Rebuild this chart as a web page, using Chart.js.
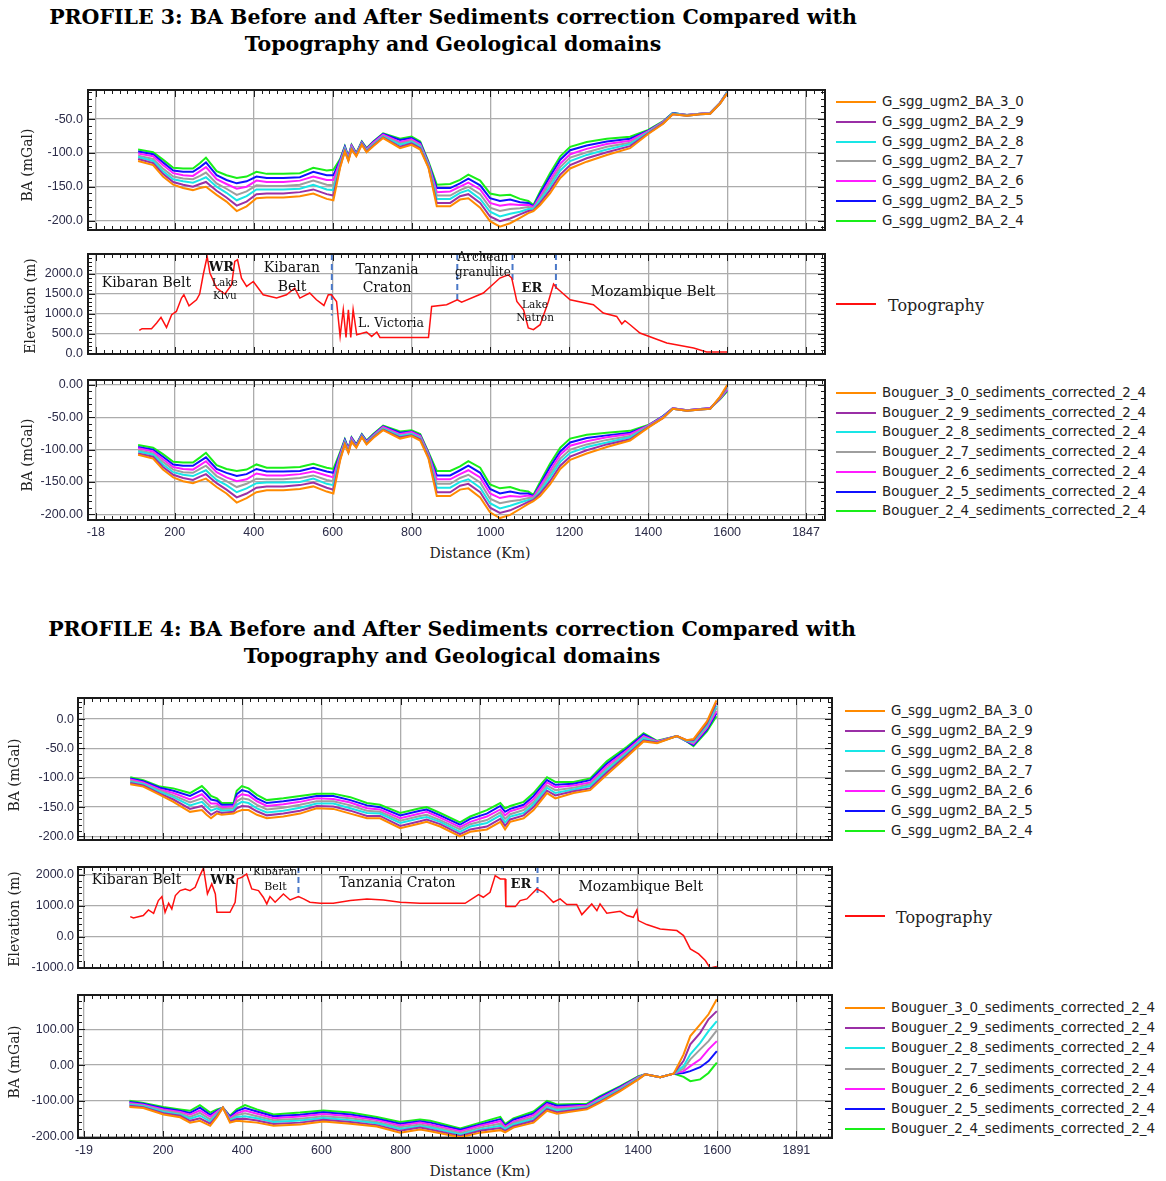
<!DOCTYPE html>
<html>
<head>
<meta charset="utf-8">
<script src="https://cdn.jsdelivr.net/npm/chart.js@4.4.1/dist/chart.umd.min.js"></script>
<style>
  body { margin: 0; background: #fff; }
  #page { position: relative; width: 1166px; height: 1181px; overflow: hidden; background: #fff; }
  canvas { position: absolute; left: 0; }
  .title { position: absolute; left: 0; text-align: center; font: bold 20.5px "DejaVu Serif"; color: #000; line-height: 27px; white-space: nowrap; }
  .leg { position: absolute; font: 13.4px "DejaVu Sans"; color: #222; white-space: nowrap; line-height: 16px; }
  .leg b { position: absolute; top: 7px; width: 40px; height: 2px; }
  .leg span { position: absolute; top: 0; }
  .vt { position: absolute; transform: translate(-50%, -50%) rotate(-90deg); font: 14px "DejaVu Serif"; color: #222; white-space: nowrap; }
  .ht { position: absolute; transform: translate(-50%, -50%); font: 14px "DejaVu Serif"; color: #222; white-space: nowrap; }
</style>
</head>
<body>
<div id="page">
  <div class="title" style="top:4px;width:906px">PROFILE 3: BA Before and After Sediments correction Compared with<br>Topography and Geological domains</div>
  <div class="title" style="top:616px;width:904px">PROFILE 4: BA Before and After Sediments correction Compared with<br>Topography and Geological domains</div>
  <canvas id="p3ba" width="832" height="160" style="top:80px"></canvas>
  <canvas id="p3topo" width="832" height="116" style="top:244px"></canvas>
  <canvas id="p3bou" width="832" height="170" style="top:370px"></canvas>
  <canvas id="p4ba" width="840" height="162" style="top:688px"></canvas>
  <canvas id="p4topo" width="840" height="117" style="top:857px"></canvas>
  <canvas id="p4bou" width="840" height="173" style="top:985px"></canvas>
</div>
<script>
// ---------- data ----------
const seriesNamesBA = ['G_sgg_ugm2_BA_3_0', 'G_sgg_ugm2_BA_2_9', 'G_sgg_ugm2_BA_2_8', 'G_sgg_ugm2_BA_2_7',
  'G_sgg_ugm2_BA_2_6', 'G_sgg_ugm2_BA_2_5', 'G_sgg_ugm2_BA_2_4'];
const seriesNamesBou = ['Bouguer_3_0_sediments_corrected_2_4', 'Bouguer_2_9_sediments_corrected_2_4',
  'Bouguer_2_8_sediments_corrected_2_4', 'Bouguer_2_7_sediments_corrected_2_4', 'Bouguer_2_6_sediments_corrected_2_4',
  'Bouguer_2_5_sediments_corrected_2_4', 'Bouguer_2_4_sediments_corrected_2_4'];

const xGridKm = [0, 200, 400, 600, 800, 1000, 1200, 1400, 1600, 1800];
const p3XLabels = ['-18', '200', '400', '600', '800', '1000', '1200', '1400', '1600', '1847'];
const p4XLabels = ['-19', '200', '400', '600', '800', '1000', '1200', '1400', '1600', '1891'];

const p3BaTicks = [-200, -150, -100, -50];
const p3TopoTicks = [0, 500, 1000, 1500, 2000];
const p3BouTicks = [-200, -150, -100, -50, 0];
const p4BaTicks = [-200, -150, -100, -50, 0];
const p4TopoTicks = [-1000, 0, 1000, 2000];
const p4BouTicks = [-200, -100, 0, 100];

// Profile 3, BA before sediments correction
const p3Km = [107,145,170,196,221,246,264,279,306,331,357,382,407,433,475,517,551,585,602,619,631,640,648,660,674,686,703,728,771,800,822,843,864,898,923,944,974,999,1024,1050,1075,1096,1109,1126,1151,1177,1202,1244,1295,1354,1400,1438,1462,1498,1532,1557,1582,1600];
const p3Ba30 = [-112,-118,-135,-147,-152,-155,-152,-150,-162,-172,-186,-179,-167,-166,-166,-164,-160,-168,-170,-122,-98,-112,-95,-105,-88,-99,-90,-78,-93,-88,-95,-122,-179,-179,-169,-167,-181,-201,-209,-204,-196,-189,-186,-177,-160,-137,-123,-113,-103,-93,-72,-57,-43,-45,-43,-42,-27,-12];
const p3Ba29 = [-109,-115,-131,-143,-147,-150,-146,-143,-156,-166,-178,-172,-161,-160,-160,-158,-154,-161,-163,-120,-97,-111,-94,-104,-87,-98,-89,-77,-91,-86,-93,-121,-174,-174,-164,-161,-174,-194,-201,-197,-191,-186,-185,-174,-155,-132,-118,-108,-99,-90,-71,-56,-43,-45,-43,-42,-27,-12];
const p3Ba28 = [-106,-112,-127,-139,-142,-144,-140,-136,-150,-159,-170,-164,-154,-154,-154,-153,-147,-154,-155,-118,-95,-110,-93,-103,-86,-97,-88,-76,-88,-84,-91,-119,-168,-168,-159,-155,-168,-187,-194,-190,-187,-183,-183,-170,-150,-126,-112,-103,-95,-87,-70,-56,-42,-45,-43,-42,-27,-11];
const p3Ba27 = [-104,-109,-123,-135,-138,-139,-134,-129,-145,-153,-162,-157,-148,-149,-149,-147,-141,-147,-148,-116,-94,-109,-92,-103,-86,-96,-87,-75,-86,-82,-89,-118,-163,-163,-155,-150,-161,-181,-186,-183,-182,-180,-182,-167,-145,-121,-107,-99,-91,-85,-69,-55,-42,-44,-42,-41,-26,-11];
const p3Ba26 = [-101,-105,-118,-130,-133,-134,-127,-121,-139,-146,-153,-150,-141,-143,-143,-141,-135,-140,-140,-113,-93,-107,-90,-102,-85,-95,-85,-73,-84,-80,-87,-116,-158,-157,-150,-144,-154,-174,-178,-176,-177,-177,-180,-164,-140,-116,-102,-94,-87,-82,-68,-54,-42,-44,-42,-41,-26,-11];
const p3Ba25 = [-98,-102,-114,-126,-128,-128,-121,-114,-133,-140,-145,-142,-135,-137,-137,-136,-128,-133,-133,-111,-91,-106,-89,-101,-84,-94,-84,-72,-81,-78,-85,-115,-152,-152,-145,-138,-148,-167,-171,-169,-173,-174,-179,-160,-135,-110,-96,-89,-83,-79,-67,-54,-41,-44,-42,-41,-26,-10];
const p3Ba24 = [-95,-99,-110,-122,-123,-123,-115,-107,-127,-133,-137,-135,-128,-131,-131,-130,-122,-126,-125,-109,-90,-105,-88,-100,-83,-93,-83,-71,-79,-76,-83,-113,-147,-146,-140,-132,-141,-160,-163,-162,-168,-171,-177,-157,-130,-105,-91,-84,-79,-76,-66,-53,-41,-44,-42,-41,-26,-10];

// Profile 3, BA after sediments correction (same km samples)
const p3Bou30 = [-108,-114,-131,-143,-149,-152,-148,-145,-158,-168,-182,-175,-166,-163,-163,-161,-157,-165,-168,-117,-92,-105,-88,-97,-81,-92,-82,-70,-83,-79,-86,-114,-172,-172,-162,-160,-174,-197,-206,-201,-192,-184,-180,-172,-154,-130,-116,-106,-96,-86,-66,-51,-37,-40,-38,-37,-18,0];
const p3Bou29 = [-106,-111,-127,-139,-144,-147,-142,-138,-152,-162,-174,-168,-159,-157,-157,-155,-151,-159,-162,-115,-91,-104,-87,-96,-80,-91,-81,-69,-81,-78,-84,-112,-166,-166,-156,-153,-166,-190,-198,-194,-187,-181,-178,-168,-149,-125,-111,-101,-92,-84,-65,-51,-37,-40,-38,-37,-19,-2];
const p3Bou28 = [-103,-108,-123,-135,-139,-141,-136,-132,-147,-155,-166,-160,-152,-151,-151,-150,-145,-153,-155,-113,-89,-103,-86,-95,-79,-90,-80,-68,-79,-76,-83,-111,-159,-159,-150,-146,-159,-183,-191,-187,-182,-178,-177,-165,-143,-119,-105,-96,-89,-81,-65,-50,-37,-40,-38,-37,-19,-3];
const p3Bou27 = [-101,-106,-119,-131,-135,-136,-130,-125,-141,-149,-158,-153,-145,-146,-146,-144,-140,-147,-149,-111,-88,-102,-85,-95,-79,-89,-79,-67,-78,-75,-81,-109,-153,-153,-144,-139,-151,-176,-183,-180,-178,-175,-175,-161,-138,-114,-100,-92,-85,-79,-64,-50,-37,-40,-38,-37,-20,-5];
const p3Bou26 = [-98,-103,-115,-127,-130,-131,-124,-118,-135,-143,-149,-146,-137,-140,-140,-138,-134,-140,-143,-108,-87,-100,-83,-94,-78,-88,-78,-65,-76,-73,-79,-107,-146,-146,-138,-132,-143,-168,-175,-172,-173,-171,-173,-157,-133,-108,-94,-87,-81,-76,-63,-49,-36,-39,-37,-36,-21,-7];
const p3Bou25 = [-96,-100,-111,-123,-125,-125,-118,-112,-130,-136,-141,-138,-130,-134,-134,-133,-128,-134,-136,-106,-85,-99,-82,-93,-77,-87,-77,-64,-74,-72,-78,-106,-140,-140,-132,-125,-136,-161,-168,-165,-168,-168,-172,-154,-127,-103,-89,-82,-78,-74,-63,-48,-36,-39,-37,-36,-21,-8];
const p3Bou24 = [-93,-97,-107,-119,-120,-120,-112,-105,-124,-130,-133,-131,-123,-128,-128,-127,-122,-128,-130,-104,-84,-98,-81,-92,-76,-86,-76,-63,-72,-70,-76,-104,-133,-133,-126,-118,-128,-154,-160,-158,-163,-165,-170,-150,-122,-97,-83,-77,-74,-71,-62,-48,-36,-39,-37,-36,-22,-10];

// Profile 3 topography
const p3TopoKm = [110,117,141,154,165,179,192,204,217,223,236,255,263,272,282,289,306,327,344,352,359,369,382,399,424,458,483,504,517,542,559,578,589,597,610,619,627,634,640,646,652,661,686,699,712,720,843,851,889,916,927,982,1024,1045,1054,1067,1084,1096,1109,1126,1147,1160,1168,1202,1261,1286,1320,1333,1341,1354,1379,1447,1515,1548,1600];
const p3Topo = [587,630,630,771,911,662,978,1060,1393,1475,1202,1351,1493,1973,2428,2015,1642,1493,1724,2304,2346,1890,1682,1806,1475,1393,1475,1642,1393,1518,1351,1209,1475,1475,1309,438,1102,413,1102,413,1102,480,547,438,547,413,413,1184,1226,1351,1293,1518,1891,1973,1891,1309,1102,647,605,729,1309,1741,1642,1351,1226,1020,936,746,829,729,522,274,149,50,50];
const p3BoundaryKm = [598, 916, 1056, 1166];
const p3BoundaryLow = [960, 1270, 1840, 1620];

// Profile 4, BA before sediments correction
const p4Km = [117,150,192,226,268,298,310,321,336,348,378,386,399,416,437,462,504,546,588,630,673,715,748,799,849,866,900,950,976,1018,1052,1064,1077,1111,1136,1170,1191,1237,1279,1321,1372,1414,1448,1498,1523,1540,1574,1598];
const p4Ba30 = [-111,-115,-129,-141,-158,-155,-163,-169,-161,-163,-161,-158,-155,-155,-163,-169,-166,-161,-152,-153,-161,-169,-169,-186,-178,-175,-183,-200,-192,-188,-175,-188,-175,-169,-155,-126,-135,-126,-121,-95,-64,-38,-41,-29,-36,-34,-4,32];
const p4Ba29 = [-109,-113,-127,-137,-153,-148,-156,-163,-157,-160,-158,-152,-148,-149,-157,-164,-161,-156,-148,-149,-156,-165,-165,-182,-174,-171,-179,-196,-188,-183,-170,-182,-171,-164,-150,-122,-130,-123,-118,-91,-61,-36,-40,-29,-36,-36,-7,28];
const p4Ba28 = [-107,-111,-124,-133,-147,-141,-149,-156,-152,-156,-155,-146,-141,-143,-152,-159,-156,-151,-144,-144,-152,-160,-161,-177,-169,-167,-175,-192,-183,-177,-164,-176,-166,-160,-145,-117,-126,-120,-114,-87,-58,-33,-40,-29,-37,-38,-10,23];
const p4Ba27 = [-105,-110,-122,-130,-142,-135,-143,-150,-148,-153,-152,-140,-135,-137,-146,-154,-151,-146,-140,-140,-147,-156,-158,-173,-165,-163,-172,-188,-179,-172,-159,-170,-162,-155,-141,-113,-121,-117,-111,-84,-56,-31,-39,-29,-37,-40,-13,19];
const p4Ba26 = [-103,-108,-120,-126,-137,-128,-136,-144,-144,-150,-149,-134,-128,-130,-140,-148,-145,-141,-135,-136,-142,-152,-154,-169,-161,-158,-168,-184,-175,-166,-154,-164,-157,-150,-136,-108,-116,-113,-108,-80,-53,-29,-38,-29,-37,-42,-15,14];
const p4Ba25 = [-101,-106,-117,-122,-131,-121,-129,-137,-139,-146,-146,-128,-121,-124,-135,-143,-140,-136,-131,-131,-138,-147,-150,-164,-156,-154,-164,-180,-170,-161,-148,-158,-153,-146,-131,-104,-112,-110,-104,-76,-50,-26,-38,-29,-38,-44,-18,10];
const p4Ba24 = [-99,-104,-115,-118,-126,-114,-122,-131,-135,-143,-143,-122,-114,-118,-129,-138,-135,-131,-127,-127,-133,-143,-146,-160,-152,-150,-160,-176,-166,-155,-143,-152,-148,-141,-126,-99,-107,-107,-101,-72,-47,-24,-37,-29,-38,-46,-21,5];

// Profile 4, BA after sediments correction
const p4BouKm = [115,150,201,243,268,293,319,336,351,369,386,407,437,479,546,605,673,740,799,849,875,951,1001,1052,1064,1085,1136,1170,1195,1271,1304,1355,1401,1418,1456,1490,1515,1532,1557,1578,1599];
const p4Bou30 = [-117,-120,-138,-146,-161,-156,-170,-146,-119,-161,-156,-158,-161,-170,-166,-158,-164,-172,-189,-180,-185,-202,-189,-182,-188,-175,-161,-128,-136,-124,-105,-73,-40,-26,-34,-24,30,81,114,142,184];
const p4Bou29 = [-114,-118,-135,-142,-156,-149,-164,-142,-119,-158,-151,-150,-155,-165,-161,-153,-159,-168,-184,-175,-180,-198,-184,-176,-184,-171,-156,-123,-132,-121,-102,-71,-39,-26,-34,-24,12,58,90,128,151];
const p4Bou28 = [-111,-115,-131,-139,-150,-141,-158,-139,-119,-155,-145,-143,-149,-159,-155,-148,-154,-163,-179,-171,-175,-194,-180,-170,-180,-166,-151,-119,-127,-119,-99,-68,-37,-26,-34,-24,-3,30,62,95,123];
const p4Bou27 = [-109,-113,-128,-135,-145,-134,-152,-135,-119,-152,-140,-135,-143,-154,-150,-143,-149,-159,-174,-166,-171,-190,-175,-164,-177,-162,-146,-114,-123,-116,-96,-66,-36,-26,-34,-24,-10,16,44,67,97];
const p4Bou26 = [-106,-111,-124,-131,-139,-127,-145,-131,-119,-148,-135,-127,-136,-149,-144,-137,-143,-154,-169,-161,-166,-185,-170,-157,-173,-158,-140,-109,-119,-113,-93,-64,-34,-26,-34,-24,-17,-3,16,44,67];
const p4Bou25 = [-103,-108,-121,-128,-134,-119,-139,-128,-119,-145,-129,-120,-130,-143,-139,-132,-138,-150,-164,-157,-161,-181,-166,-151,-169,-153,-135,-105,-114,-111,-90,-61,-33,-26,-34,-24,-22,-17,-6,11,39];
const p4Bou24 = [-100,-106,-117,-124,-128,-112,-133,-124,-119,-142,-124,-112,-124,-138,-133,-127,-133,-145,-159,-152,-156,-177,-161,-145,-165,-149,-130,-100,-110,-108,-87,-59,-31,-26,-34,-24,-33,-45,-40,-22,7];

// Profile 4 topography
const p4TopoKm = [117,125,150,163,176,188,197,205,214,222,231,243,256,268,281,293,302,312,323,332,336,369,382,388,399,411,424,441,453,462,470,483,504,521,542,555,571,597,630,673,715,757,799,849,963,997,1009,1026,1039,1052,1064,1066,1090,1102,1119,1144,1161,1186,1203,1220,1245,1258,1283,1296,1304,1321,1355,1372,1388,1397,1401,1422,1456,1498,1515,1532,1553,1570,1582,1599];
const p4Topo = [649,606,682,866,757,1169,1299,790,1082,898,1331,1494,1548,1494,1602,1981,2230,1386,1711,1386,790,790,1115,1873,1927,2035,1548,1494,1277,1061,1299,1115,1386,1190,1299,1223,1115,1082,1082,1169,1223,1190,1115,1082,1082,1364,1277,1440,1981,1873,1873,974,974,1169,1223,1548,1440,1115,1223,1039,1039,714,1061,844,1061,757,822,682,628,866,520,390,249,195,32,-400,-562,-779,-1017,-974];
const p4BoundaryKm = [542, 1056, 1146];
const p4BoundaryLow = [1270, 2190, 1330];

// geological domain labels (in km / metres)
const p3Notes = [
  { text: 'Kibaran Belt', km: 128, m: 1768, size: 14 },
  { text: 'WR', km: 318, m: 2141, size: 13, bold: true },
  { text: 'Lake', km: 327, m: 1768, size: 10.5 },
  { text: 'Kivu', km: 327, m: 1444, size: 10.5 },
  { text: 'Kibaran', km: 497, m: 2141, size: 14 },
  { text: 'Belt', km: 497, m: 1668, size: 14 },
  { text: 'Tanzania', km: 738, m: 2092, size: 14 },
  { text: 'Craton', km: 738, m: 1643, size: 14 },
  { text: 'L. Victoria', km: 748, m: 747, size: 12.5 },
  { text: 'Archean', km: 981, m: 2390, size: 12 },
  { text: 'granulite', km: 981, m: 2017, size: 12 },
  { text: 'ER', km: 1105, m: 1619, size: 13, bold: true },
  { text: 'Lake', km: 1113, m: 1220, size: 10.5 },
  { text: 'Natron', km: 1113, m: 896, size: 10.5 },
  { text: 'Mozambique Belt', km: 1412, m: 1544, size: 14 }
];
const p4Notes = [
  { text: 'Kibaran Belt', km: 133, m: 1818, size: 14 },
  { text: 'WR', km: 351, m: 1818, size: 13, bold: true },
  { text: 'Kibaran', km: 483, m: 2078, size: 11 },
  { text: 'Belt', km: 484, m: 1591, size: 11 },
  { text: 'Tanzania Craton', km: 792, m: 1721, size: 14 },
  { text: 'ER', km: 1104, m: 1688, size: 13, bold: true },
  { text: 'Mozambique Belt', km: 1407, m: 1591, size: 14 }
];

// ---------- styling ----------
const lineColors = ['#ff8a00', '#9a2fa6', '#19e6e6', '#9e9e9e', '#ff1cff', '#1010ff', '#19ee19'];
const topoColor = '#ff1010';
const boundaryColor = '#4a78c8';
const gridColor = '#acacac';
const tickFont = { family: 'Liberation Sans', size: 12.5 };
const tickColor = '#2b2b48';

const page = document.getElementById('page');

function pts(xs, ys) { return xs.map((x, i) => ({ x: x, y: ys[i] })); }

function bundle(km, arrays, names) {
  return arrays.map((vals, i) => ({
    label: names[i], data: pts(km, vals), borderColor: lineColors[i], borderWidth: 2
  }));
}

function boundaries(kms, lows, top) {
  return kms.map((k, i) => ({
    label: 'boundary', data: [{ x: k, y: top }, { x: k, y: lows[i] }],
    borderColor: boundaryColor, borderWidth: 2, borderDash: [6, 4]
  }));
}

const framePlugin = {
  id: 'frame',
  afterDatasetsDraw(chart, args, o) {
    const { ctx, chartArea: a, scales: { x, y } } = chart;
    ctx.save();
    ctx.strokeStyle = '#1a1a1a';
    ctx.lineWidth = 1;
    ctx.beginPath();
    for (let v = Math.ceil(x.min / 20) * 20; v <= x.max; v += 20) {
      const px = Math.round(x.getPixelForValue(v)) + 0.5;
      const len = v % 200 === 0 ? 7 : 4;
      ctx.moveTo(px, a.bottom); ctx.lineTo(px, a.bottom - len);
      ctx.moveTo(px, a.top); ctx.lineTo(px, a.top + len);
    }
    const minor = o.yMajor / 5;
    for (let v = Math.ceil(y.min / minor) * minor; v <= y.max; v += minor) {
      const py = Math.round(y.getPixelForValue(v)) + 0.5;
      const len = Math.abs(v % o.yMajor) < 1e-6 ? 7 : 4;
      ctx.moveTo(a.left, py); ctx.lineTo(a.left + len, py);
      ctx.moveTo(a.right, py); ctx.lineTo(a.right - len, py);
    }
    ctx.stroke();
    ctx.lineWidth = 2;
    ctx.strokeRect(a.left, a.top, a.right - a.left, a.bottom - a.top);
    ctx.restore();
  }
};

const notesPlugin = {
  id: 'notes',
  afterDatasetsDraw(chart, args, o) {
    if (!o.items) return;
    const { ctx, scales: { x, y } } = chart;
    ctx.save();
    ctx.fillStyle = '#111';
    ctx.textAlign = 'center';
    ctx.textBaseline = 'middle';
    o.items.forEach(n => {
      ctx.font = (n.bold ? 'bold ' : '') + n.size + 'px "DejaVu Serif"';
      ctx.fillText(n.text, x.getPixelForValue(n.km), y.getPixelForValue(n.m));
    });
    ctx.restore();
  }
};

function makeChart(id, c) {
  return new Chart(document.getElementById(id), {
    type: 'line',
    data: { datasets: c.datasets },
    options: {
      responsive: false,
      animation: false,
      layout: { padding: { top: 10, right: c.padRight, bottom: c.padBottom, left: 0 } },
      elements: { point: { radius: 0 }, line: { tension: 0 } },
      plugins: {
        legend: { display: false },
        tooltip: { enabled: false },
        frame: { yMajor: c.yMajor },
        notes: { items: c.notes }
      },
      scales: {
        x: {
          type: 'linear', min: c.xMin, max: c.xMax,
          afterBuildTicks: ax => { ax.ticks = xGridKm.map(v => ({ value: v })); },
          afterFit: ax => { ax.height = c.xHeight; ax.paddingLeft = 0; ax.paddingRight = 0; },
          grid: { color: gridColor, lineWidth: 1.3, drawTicks: false },
          border: { display: false },
          ticks: {
            display: !!c.xLabels, autoSkip: false, maxRotation: 0, padding: 5,
            font: tickFont, color: tickColor,
            callback: (v, i) => c.xLabels ? c.xLabels[i] : ''
          }
        },
        y: {
          type: 'linear', min: c.yMin, max: c.yMax,
          afterBuildTicks: ax => { ax.ticks = c.yTicks.map(v => ({ value: v })); },
          afterFit: ax => { ax.width = c.yWidth; ax.paddingTop = 0; ax.paddingBottom = 0; },
          grid: { color: gridColor, lineWidth: 1.3, drawTicks: false },
          border: { display: false },
          ticks: { padding: c.yPad, font: tickFont, color: tickColor, callback: v => v.toFixed(c.dec) }
        }
      }
    },
    plugins: [framePlugin, notesPlugin]
  });
}

function legend(names, colors, firstY, step, lineX, textX, font) {
  names.forEach((n, i) => {
    const d = document.createElement('div');
    d.className = 'leg';
    d.style.left = lineX + 'px';
    d.style.top = Math.round(firstY + i * step - 8) + 'px';
    if (font) d.style.font = font;
    d.innerHTML = '<b style="background:' + colors[i] + '"></b><span style="left:' + (textX - lineX) + 'px"></span>';
    d.querySelector('span').textContent = n;
    page.appendChild(d);
  });
}

function label(cls, text, cx, cy) {
  const d = document.createElement('div');
  d.className = cls;
  d.textContent = text;
  d.style.left = cx + 'px';
  d.style.top = cy + 'px';
  page.appendChild(d);
}

// ---------- profile 3 ----------
makeChart('p3ba', {
  datasets: bundle(p3Km, [p3Ba30, p3Ba29, p3Ba28, p3Ba27, p3Ba26, p3Ba25, p3Ba24], seriesNamesBA),
  xMin: -20, xMax: 1848, yMin: -214, yMax: -7, yTicks: p3BaTicks, yMajor: 50, dec: 1,
  yWidth: 88, yPad: 5, xHeight: 0, padRight: 7, padBottom: 10
});
makeChart('p3topo', {
  datasets: [{ label: 'Topography', data: pts(p3TopoKm, p3Topo), borderColor: topoColor, borderWidth: 1.5 }]
    .concat(boundaries(p3BoundaryKm, p3BoundaryLow, 2490)),
  notes: p3Notes,
  xMin: -20, xMax: 1848, yMin: 0, yMax: 2490, yTicks: p3TopoTicks, yMajor: 500, dec: 1,
  yWidth: 88, yPad: 5, xHeight: 0, padRight: 7, padBottom: 6
});
makeChart('p3bou', {
  datasets: bundle(p3Km, [p3Bou30, p3Bou29, p3Bou28, p3Bou27, p3Bou26, p3Bou25, p3Bou24], seriesNamesBou),
  xMin: -20, xMax: 1848, yMin: -209, yMax: 7.7, yTicks: p3BouTicks, yMajor: 50, dec: 2,
  yWidth: 88, yPad: 5, xHeight: 20, xLabels: p3XLabels, padRight: 7, padBottom: 0
});

// ---------- profile 4 ----------
makeChart('p4ba', {
  datasets: bundle(p4Km, [p4Ba30, p4Ba29, p4Ba28, p4Ba27, p4Ba26, p4Ba25, p4Ba24], seriesNamesBA),
  xMin: -15, xMax: 1890, yMin: -206, yMax: 36, yTicks: p4BaTicks, yMajor: 50, dec: 1,
  yWidth: 78, yPad: 4, xHeight: 0, padRight: 8, padBottom: 10
});
makeChart('p4topo', {
  datasets: [{ label: 'Topography', data: pts(p4TopoKm, p4Topo), borderColor: topoColor, borderWidth: 1.5 }]
    .concat(boundaries(p4BoundaryKm, p4BoundaryLow, 2260)),
  notes: p4Notes,
  xMin: -15, xMax: 1890, yMin: -1020, yMax: 2260, yTicks: p4TopoTicks, yMajor: 1000, dec: 1,
  yWidth: 78, yPad: 4, xHeight: 0, padRight: 8, padBottom: 6
});
makeChart('p4bou', {
  datasets: bundle(p4BouKm, [p4Bou30, p4Bou29, p4Bou28, p4Bou27, p4Bou26, p4Bou25, p4Bou24], seriesNamesBou),
  xMin: -15, xMax: 1890, yMin: -204, yMax: 196, yTicks: p4BouTicks, yMajor: 100, dec: 2,
  yWidth: 78, yPad: 4, xHeight: 20, xLabels: p4XLabels, padRight: 8, padBottom: 0
});

// ---------- legends and axis titles ----------
legend(seriesNamesBA, lineColors, 102, 19.8, 836, 882);
legend(['Topography'], [topoColor], 304, 0, 836, 888, '16px "DejaVu Serif"');
legend(seriesNamesBou, lineColors, 393, 19.7, 836, 882);
legend(seriesNamesBA, lineColors, 711, 20, 845, 891);
legend(['Topography'], [topoColor], 916, 0, 845, 896, '16px "DejaVu Serif"');
legend(seriesNamesBou, lineColors, 1008, 20.2, 845, 891);

label('vt', 'BA (mGal)', 27, 165);
label('vt', 'Elevation (m)', 30, 306);
label('vt', 'BA (mGal)', 27, 455);
label('ht', 'Distance (Km)', 480, 553);
label('vt', 'BA (mGal)', 14, 775);
label('vt', 'Elevation (m)', 14, 919);
label('vt', 'BA (mGal)', 14, 1062);
label('ht', 'Distance (Km)', 480, 1171);
</script>
</body>
</html>
